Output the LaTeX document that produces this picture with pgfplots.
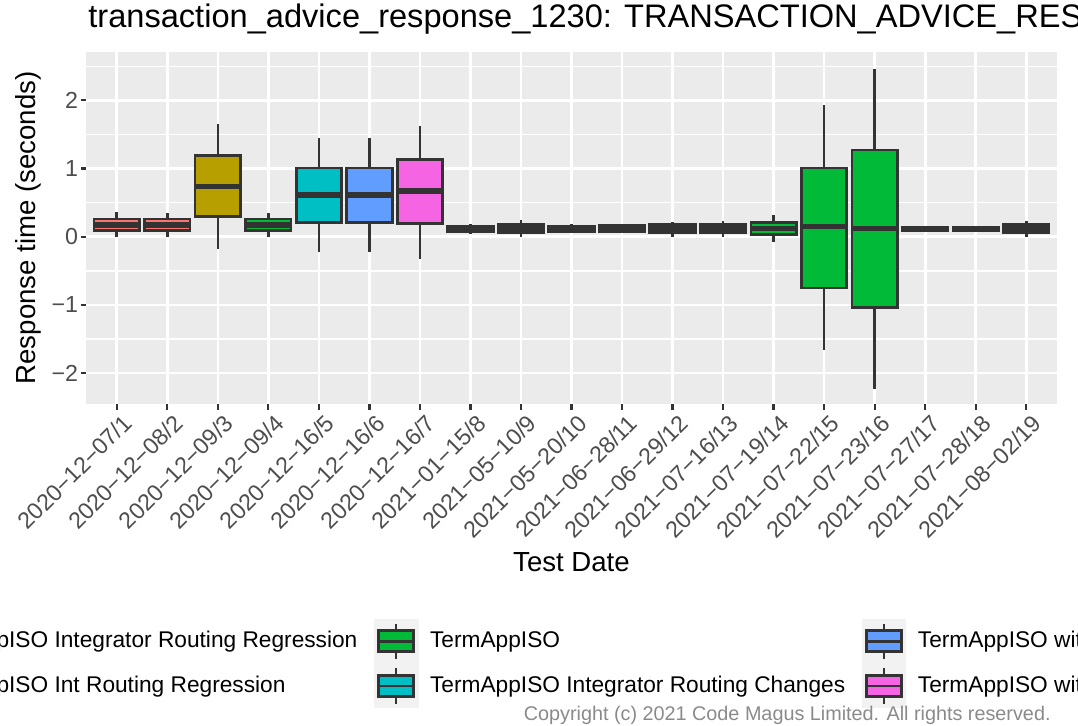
\documentclass[border=0pt]{standalone}
\usepackage{fontspec}
\setmainfont{Liberation Sans}
\usepackage{pgfplots}
\pgfplotsset{compat=1.18}
\usepgfplotslibrary{statistics}
\definecolor{cA}{HTML}{F8766D}
\definecolor{cB}{HTML}{B79F00}
\definecolor{cC}{HTML}{00BA38}
\definecolor{cD}{HTML}{00BFC4}
\definecolor{cE}{HTML}{619CFF}
\definecolor{cF}{HTML}{F564E3}
\definecolor{panelbg}{HTML}{EBEBEB}
\definecolor{keybg}{HTML}{F2F2F2}
\definecolor{gtwenty}{HTML}{333333}
\definecolor{gthirty}{HTML}{4D4D4D}
\definecolor{copyc}{HTML}{8A8A8A}
\pgfplotsset{
  boxkey/.style={legend image code/.code={
    \fill[keybg] (0pt,-10.95pt) rectangle (21.85pt,10.95pt);
    \draw[gtwenty, line width=1.35pt] (10.925pt,-8.9pt) -- (10.925pt,8.9pt);
    \filldraw[fill=#1, draw=gtwenty, line width=1.35pt] (2.2pt,-5.25pt) rectangle (19.65pt,5.25pt);
    \draw[gtwenty, line width=1.35pt] (2.2pt,0pt) -- (19.65pt,0pt);
  }},
  bx/.style n args={7}{boxplot prepared={draw position=#1, lower whisker=#2,
      lower quartile=#3, median=#4, upper quartile=#5, upper whisker=#6},
      draw=gtwenty, fill=#7, line width=1.35pt, forget plot},
}
\begin{document}
\begin{tikzpicture}
\useasboundingbox (0,0) rectangle (539pt,-362.5pt);
\begin{axis}[
  at={(43.25pt,-202pt)}, anchor=south west,
  scale only axis, width=485pt, height=176.15pt,
  xmin=0.4, xmax=19.6, ymin=-2.453, ymax=2.713,
  axis background/.style={fill=panelbg},
  axis line style={draw=none},
  tick pos=left, tick align=outside,
  major tick length=2.75pt, minor tick length=0pt,
  major tick style={draw=gtwenty, line width=1.1pt},
  xtick={1,...,19},
  xticklabels={2020−12−07/1,2020−12−08/2,2020−12−09/3,2020−12−09/4,2020−12−16/5,2020−12−16/6,2020−12−16/7,2021−01−15/8,2021−05−10/9,2021−05−20/10,2021−06−28/11,2021−06−29/12,2021−07−16/13,2021−07−19/14,2021−07−22/15,2021−07−23/16,2021−07−27/17,2021−07−28/18,2021−08−02/19},
  ytick={-2,-1,0,1,2},
  yticklabels={−2,−1,0,1,2},
  minor ytick={-1.5,-0.5,0.5,1.5,2.5},
  xmajorgrids, ymajorgrids, yminorgrids,
  major grid style={white, line width=1.35pt},
  minor grid style={white, line width=0.7pt},
  every tick label/.append style={font=\fontsize{11.6}{13}\selectfont, text=gthirty},
  xticklabel style={font=\fontsize{11.6}{13}\selectfont, inner sep=0pt, xshift=2.5pt, yshift=-1.5pt, rotate=45, anchor=north east},
  yticklabel style={font=\fontsize{11.6}{13}\selectfont, inner sep=0pt, xshift=-1.25pt, anchor=east},
  title={transaction\_advice\_response\_1230: TRANSACTION\_ADVICE\_RESPONSE},
  title style={at={(axis description cs:0.0015,1.0347)}, anchor=base west, yshift=0pt, inner sep=0pt, font=\fontsize{16.3}{19}\selectfont},
  xlabel={Test Date},
  every axis x label/.style={at={(axis description cs:0.5,-0.474)}, anchor=base, inner sep=0pt, font=\fontsize{13.8}{16}\selectfont},
  ylabel={Response time (seconds)},
  every axis y label/.style={at={(axis description cs:-0.0521,0.5)}, rotate=90, anchor=base, inner sep=0pt, font=\fontsize{13.8}{16}\selectfont},
  boxplot/draw direction=y,
  boxplot/box extend=0.9,
  boxplot/whisker extend=0,
  boxplot/every median/.style={line width=2.7pt},
  legend columns=3,
  legend cell align=left,
  legend style={at={(axis description cs:-0.2314,-0.6103)}, anchor=north west,
    draw=none, fill=none, inner sep=0pt, outer sep=0pt, row sep=0pt, column sep=5.9pt,
    /tikz/every even column/.append style={column sep=8.2pt},
    font=\fontsize{11.35}{13}\selectfont,
    nodes={inner sep=0pt, outer sep=0pt, text height=8pt, text depth=1.5pt, anchor=west}},
]
\addplot[bx={1}{-0.01}{0.09}{0.17}{0.26}{0.36}{cA}] coordinates {};
\addplot[bx={2}{-0.01}{0.09}{0.17}{0.26}{0.35}{cA}] coordinates {};
\addplot[bx={3}{-0.18}{0.30}{0.74}{1.19}{1.66}{cB}] coordinates {};
\addplot[bx={4}{0.00}{0.09}{0.17}{0.26}{0.35}{cC}] coordinates {};
\addplot[bx={5}{-0.23}{0.21}{0.61}{1.01}{1.45}{cD}] coordinates {};
\addplot[bx={6}{-0.23}{0.21}{0.61}{1.01}{1.45}{cE}] coordinates {};
\addplot[bx={7}{-0.32}{0.19}{0.67}{1.13}{1.63}{cF}] coordinates {};
\addplot[bx={8}{0.04}{0.08}{0.12}{0.15}{0.19}{cC}] coordinates {};
\addplot[bx={9}{0.00}{0.06}{0.12}{0.18}{0.24}{cC}] coordinates {};
\addplot[bx={10}{0.05}{0.08}{0.12}{0.15}{0.18}{cC}] coordinates {};
\addplot[bx={11}{0.06}{0.08}{0.12}{0.16}{0.19}{cC}] coordinates {};
\addplot[bx={12}{0.00}{0.06}{0.12}{0.18}{0.22}{cC}] coordinates {};
\addplot[bx={13}{0.00}{0.06}{0.12}{0.18}{0.23}{cC}] coordinates {};
\addplot[bx={14}{-0.08}{0.03}{0.12}{0.21}{0.32}{cC}] coordinates {};
\addplot[bx={15}{-1.66}{-0.75}{0.15}{1.01}{1.93}{cC}] coordinates {};
\addplot[bx={16}{-2.23}{-1.04}{0.12}{1.27}{2.46}{cC}] coordinates {};
\addplot[bx={17}{0.08}{0.09}{0.12}{0.14}{0.16}{cC}] coordinates {};
\addplot[bx={18}{0.08}{0.09}{0.12}{0.14}{0.16}{cC}] coordinates {};
\addplot[bx={19}{0.00}{0.06}{0.12}{0.18}{0.23}{cC}] coordinates {};
\addlegendimage{boxkey=cA}\addlegendentry{TermAppISO Integrator Routing Regression}
\addlegendimage{boxkey=cC}\addlegendentry{TermAppISO}
\addlegendimage{boxkey=cE}\addlegendentry{TermAppISO with Routing Changes}
\addlegendimage{boxkey=cB}\addlegendentry{TermAppISO Int Routing Regression}
\addlegendimage{boxkey=cD}\addlegendentry{TermAppISO Integrator Routing Changes}
\addlegendimage{boxkey=cF}\addlegendentry{TermAppISO with Routing Regression}
\end{axis}
\node[anchor=base east, inner sep=0pt, text=copyc, font=\fontsize{9.9}{12}\selectfont] at (525.5pt,-360pt) {Copyright (c) 2021 Code Magus Limited. All rights reserved.};
\end{tikzpicture}
\end{document}
